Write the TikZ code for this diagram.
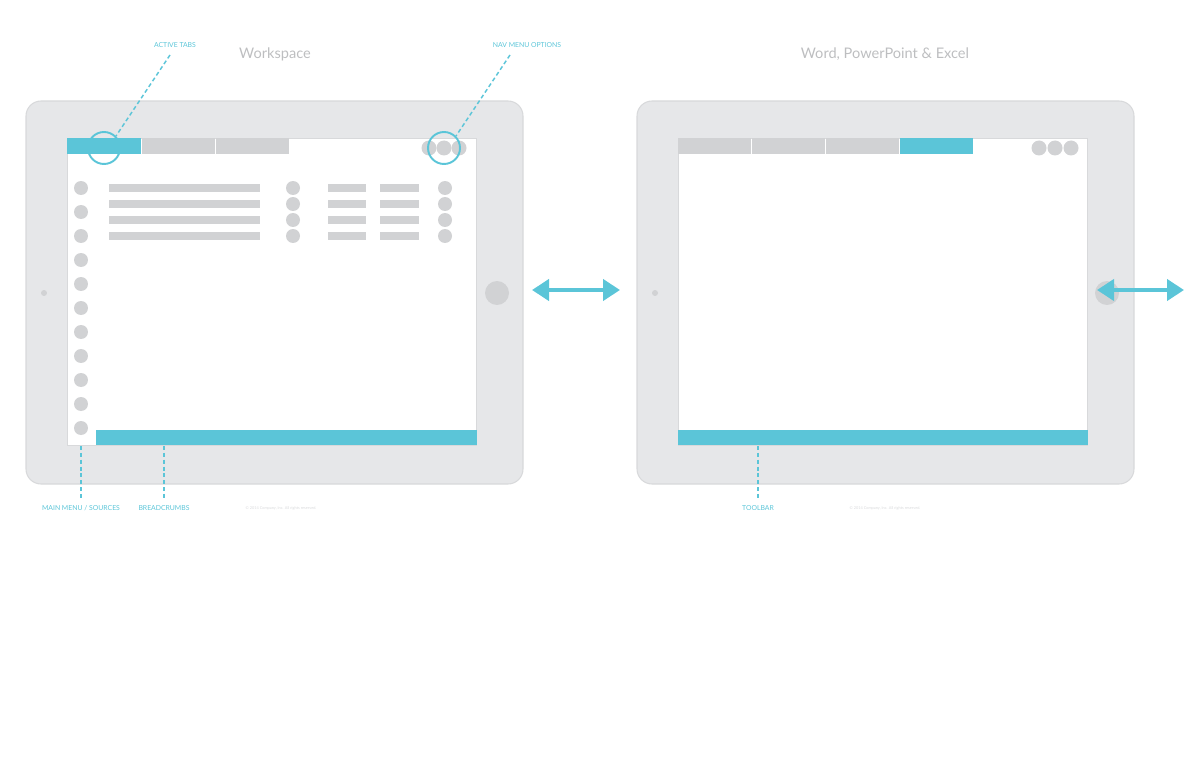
\documentclass[tikz,border=0pt]{standalone}
\usepackage{fontspec}
\setmainfont{Lato}
\usetikzlibrary{arrows.meta}
\definecolor{accent}{HTML}{5BC5D8}
\definecolor{padgray}{HTML}{E6E7E9}
\definecolor{padedge}{HTML}{D8D9DB}
\definecolor{mockgray}{HTML}{D1D2D4}
\definecolor{titlegray}{HTML}{BDBEC0}

\begin{document}
\begin{tikzpicture}[x=0.02cm, y=-0.02cm,
        tablet/.style={fill=padgray, draw=padedge, line width=0.6pt, rounded corners=0.3cm},
        screen/.style={fill=white, draw=padedge, line width=0.3pt},
        dot/.style={circle, fill=mockgray, inner sep=0pt, minimum size=#1},
        dot/.default=0.28cm,
        ring/.style={circle, draw=accent, line width=1.1pt, inner sep=0pt, minimum size=0.64cm},
        heading/.style={text=titlegray, font=\fontsize{8.3}{10}\selectfont},
        callout/.style={text=accent, font=\fontsize{3.9}{4.5}\selectfont, inner sep=0pt},
        fineprint/.style={text=padedge, font=\fontsize{2.2}{2.6}\selectfont, inner sep=0pt},
        leader/.style={draw=accent, line width=0.85pt, dash pattern=on 2.3pt off 1.6pt},
        swap/.style={draw=accent, line width=2.3pt,
            {Triangle[length=0.34cm, width=0.42cm]}-{Triangle[length=0.34cm, width=0.42cm]}}]
    \useasboundingbox (0,0) rectangle (1200,760);

    % workspace tablet
    \draw[tablet] (26,101) rectangle (523,484);
    \draw[screen] (67,138) rectangle (476,445);
    \fill[accent] (67,138) rectangle (141,154);
    \fill[mockgray] (142,138) rectangle (215,154);
    \fill[mockgray] (216,138) rectangle (289,154);
    \foreach \x in {429,444,459}
        \node[dot=0.3cm] (navdot\x) at (\x,148) {};
    \foreach \y in {188,212,...,428}
        \node[dot] (menu\y) at (81,\y) {};
    \foreach \y in {188,204,220,236} {
        \fill[mockgray] (109,\y-4) rectangle (260,\y+4);
        \node[dot] (rowdot\y) at (293,\y) {};
        \fill[mockgray] (328,\y-4) rectangle (366,\y+4);
        \fill[mockgray] (380,\y-4) rectangle (419,\y+4);
        \node[dot] (rowend\y) at (445,\y) {};
    }
    \fill[accent] (96,430) rectangle (477,445);
    \node[dot=0.48cm] (homeleft) at (497,293) {};
    \node[dot=0.12cm] (camleft) at (44,293) {};
    \node[ring] (tabring) at (104,148) {};
    \node[ring] (navring) at (444,148) {};

    % office tablet
    \draw[tablet] (637,101) rectangle (1134,484);
    \draw[screen] (678,138) rectangle (1087,445);
    \fill[mockgray] (678,138) rectangle (751,154);
    \fill[mockgray] (752,138) rectangle (825,154);
    \fill[mockgray] (826,138) rectangle (899,154);
    \fill[accent] (900,138) rectangle (973,154);
    \foreach \x in {1039,1055,1071}
        \node[dot=0.3cm] (officedot\x) at (\x,148) {};
    \fill[accent] (678,430) rectangle (1088,445);
    \node[dot=0.48cm] (homeright) at (1107,293) {};
    \node[dot=0.12cm] (camright) at (655,293) {};

    % titles and callouts
    \node[heading] (workspace) at (275,54) {Workspace};
    \node[heading] (office) at (885,54) {Word, PowerPoint \& Excel};
    \node[callout] (activetabs) at (175,45) {ACTIVE TABS};
    \node[callout] (navmenu) at (527,45) {NAV MENU OPTIONS};
    \node[callout] (mainmenu) at (81,508) {MAIN MENU / SOURCES};
    \node[callout] (crumbs) at (164,508) {BREADCRUMBS};
    \node[callout] (toolbar) at (758,508) {TOOLBAR};
    \node[fineprint] (copyleft) at (281,508) {© 2014 Company, Inc. All rights reserved.};
    \node[fineprint] (copyright) at (885,508) {© 2014 Company, Inc. All rights reserved.};

    \coordinate (tabtip) at (170,55);
    \coordinate (navtip) at (510,55);
    \coordinate (menutip) at (81,446);
    \coordinate (crumbtip) at (164,446);
    \coordinate (tooltip) at (758,446);
    \draw[leader] (tabtip) -- (tabring.north east);
    \draw[leader] (navtip) -- (navring.north east);
    \draw[leader] (menutip) -- ([yshift=3.2pt]mainmenu.north);
    \draw[leader] (crumbtip) -- ([yshift=3.2pt]crumbs.north);
    \draw[leader] (tooltip) -- ([yshift=3.2pt]toolbar.north);

    % arrows
    \coordinate (swapa) at (532,290);
    \coordinate (swapb) at (620,290);
    \coordinate (swapc) at (1097,290);
    \coordinate (swapd) at (1184,290);
    \draw[swap] (swapa) -- (swapb);
    \draw[swap] (swapc) -- (swapd);
\end{tikzpicture}
\end{document}
